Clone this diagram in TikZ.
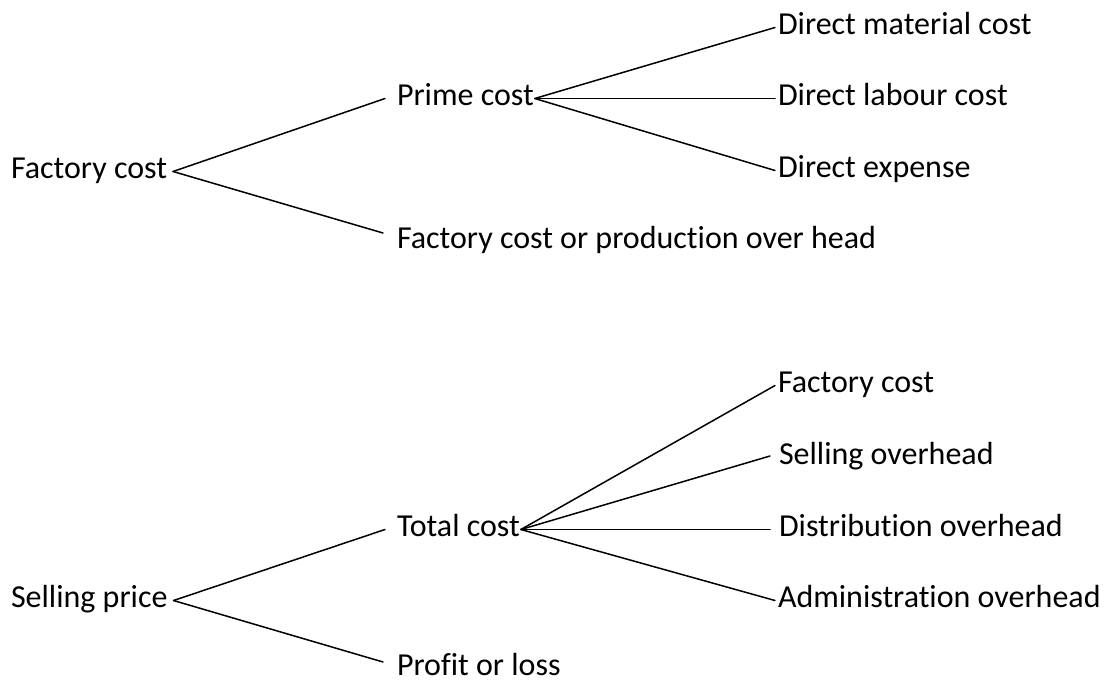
\documentclass[tikz,border=0pt]{standalone}
\usepackage{fontspec}
\setmainfont{Carlito}[Ligatures=NoCommon]
\begin{document}
\begin{tikzpicture}[x=1pt,y=-1pt,
  lbl/.style={inner sep=0pt,outer sep=0pt,anchor=base west,font=\fontsize{32}{36}\selectfont},
  conn/.style={line width=1.5pt,line cap=round}]
\useasboundingbox (0,0) rectangle (1109,681);
% top tree
\node[lbl] (fc) at (11,178) {Factory cost};
\node[lbl] (pc) at (397,105) {Prime cost};
\node[lbl] (foh) at (397,248) {Factory cost or production over head};
\node[lbl] (dm) at (778,34) {Direct material cost};
\node[lbl] (dl) at (778,105) {Direct labour cost};
\node[lbl] (de) at (778,177) {Direct expense};
\draw[conn] ([shift={(6pt,6.5pt)}]fc.base east) -- ([shift={(-12pt,6.5pt)}]pc.base west);
\draw[conn] ([shift={(6pt,6.5pt)}]fc.base east) -- ([shift={(-14pt,15pt)}]foh.base west);
\draw[conn] ([shift={(1pt,6.5pt)}]pc.base east) -- ([shift={(-3pt,6.5pt)}]dm.base west);
\draw[conn] ([shift={(1pt,6.5pt)}]pc.base east) -- ([shift={(-3pt,6.5pt)}]dl.base west);
\draw[conn] ([shift={(1pt,6.5pt)}]pc.base east) -- ([shift={(-3pt,6.5pt)}]de.base west);
% bottom tree
\node[lbl] (sp) at (11,607) {Selling price};
\node[lbl] (tc) at (397,536) {Total cost};
\node[lbl] (pl) at (397,675) {Profit or loss};
\node[lbl] (fc2) at (778,392) {Factory cost};
\node[lbl] (so) at (779,464) {Selling overhead};
\node[lbl] (dio) at (779,536) {Distribution overhead};
\node[lbl] (ao) at (778,607) {Administration overhead};
\draw[conn] ([shift={(6pt,6.5pt)}]sp.base east) -- ([shift={(-12pt,6.5pt)}]tc.base west);
\draw[conn] ([shift={(6pt,6.5pt)}]sp.base east) -- ([shift={(-14pt,13pt)}]pl.base west);
\draw[conn] ([shift={(1pt,6.5pt)}]tc.base east) -- ([shift={(-3pt,6.5pt)}]fc2.base west);
\draw[conn] ([shift={(1pt,6.5pt)}]tc.base east) -- ([shift={(-9pt,8pt)}]so.base west);
\draw[conn] ([shift={(1pt,6.5pt)}]tc.base east) -- ([shift={(-9pt,6.5pt)}]dio.base west);
\draw[conn] ([shift={(1pt,6.5pt)}]tc.base east) -- ([shift={(-3pt,6.5pt)}]ao.base west);
\end{tikzpicture}
\end{document}
